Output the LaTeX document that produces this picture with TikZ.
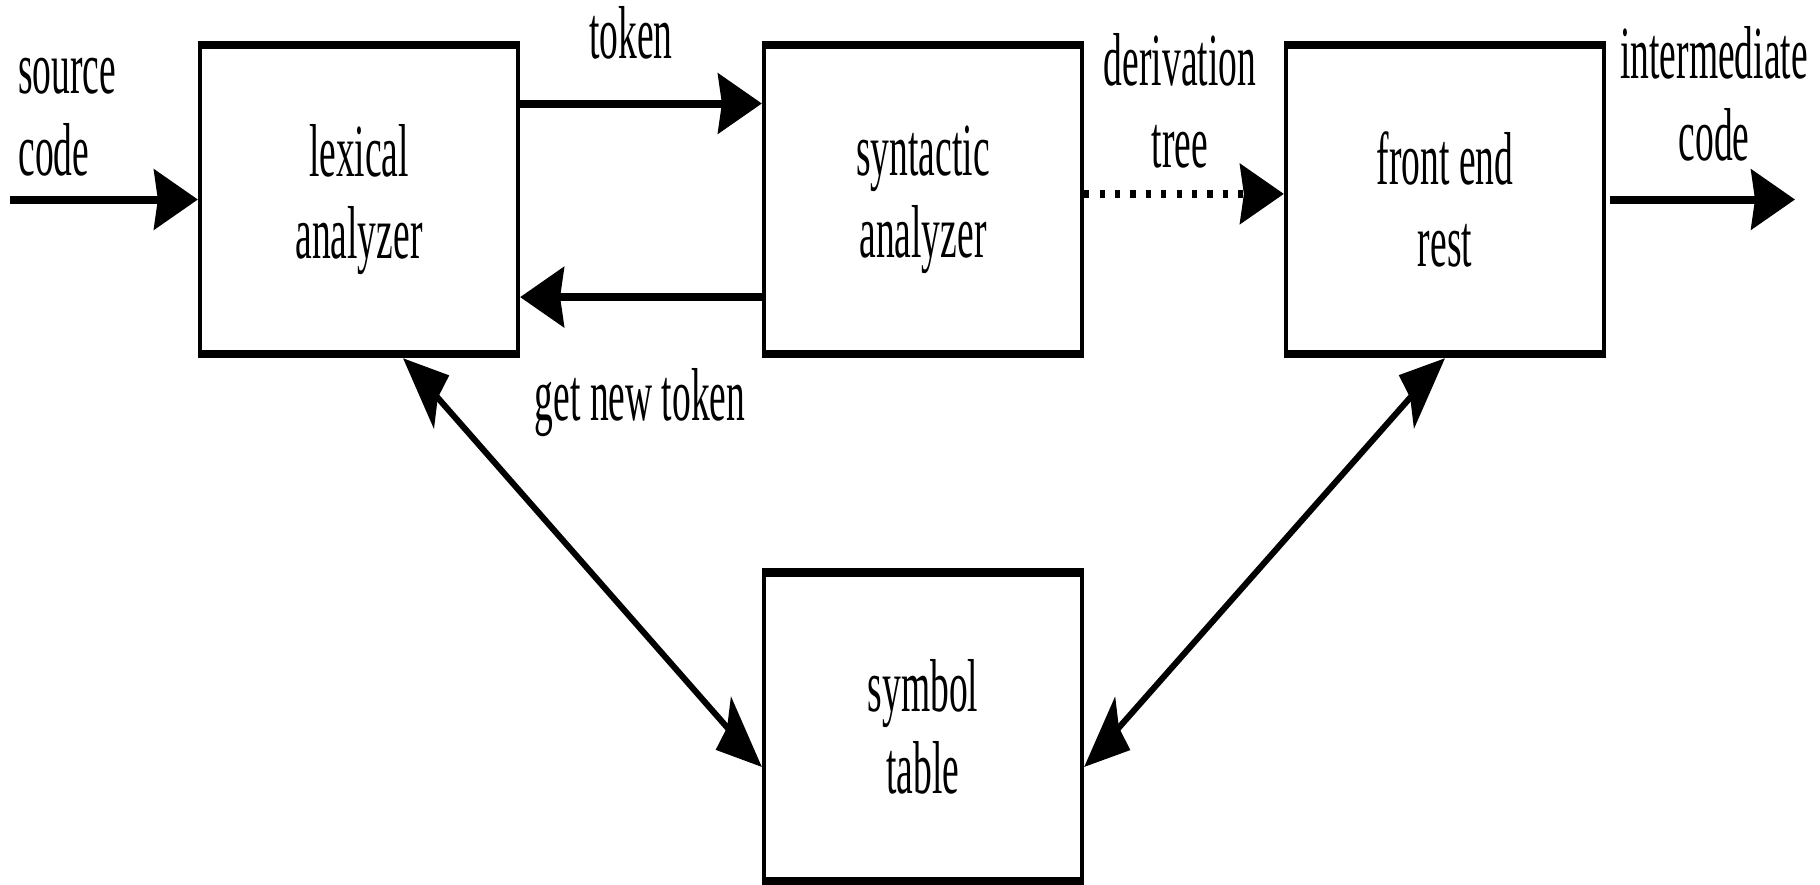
\documentclass[tikz,border=0pt]{standalone}
\usepackage{fontspec}
\setmainfont{Liberation Serif}
\usetikzlibrary{arrows.meta}
\begin{document}
\begin{tikzpicture}[x=0.5pt,y=-0.5pt]
\useasboundingbox (0,0) rectangle (1820,884);
\fill[white] (0,0) rectangle (1820,884);
% everything is drawn squeezed and then stretched twice as tall
\begin{scope}[transform canvas={yscale=2}, x=0.5pt, y=-0.25pt,
  lbl/.style={font=\fontsize{18.75pt}{20.5pt}\selectfont, inner sep=0pt, align=center},
  blk/.style={lbl, draw, line width=2.1pt, minimum width=159pt, minimum height=77.25pt},
  bigtip/.tip={Stealth[length=22pt,width=15pt,inset=2pt]},
  arr/.style={line width=2pt, -bigtip},
  darr/.style={line width=2pt, bigtip-bigtip},
  dotarr/.style={line width=1.9pt, dash pattern=on 2.6pt off 5.1pt, -bigtip}]

  % blocks
  \node[blk] (lex)   at (359,199.5)  {lexical\\analyzer};
  \node[blk] (syn)   at (923,199.5)  {syntactic\\analyzer};
  \node[blk] (front) at (1445,199.5) {front end\\rest};
  \node[blk] (sym)   at (923,727)    {symbol\\table};

  % labels (base = baseline of the last line)
  \node[lbl, anchor=base west, align=left] (srclbl) at (18,175) {source\\code};
  \node[lbl, anchor=base] (toklbl) at (631,58)  {token};
  \node[lbl, anchor=base] (gntlbl) at (640,420) {get new token};
  \node[lbl, anchor=base] (dtlbl)  at (1180,167) {derivation\\tree};
  \node[lbl, anchor=base] (iclbl)  at (1714,160) {intermediate\\code};

  % free ends of the outer arrows
  \coordinate (srcin) at (10,199.5);
  \coordinate (icout) at (1795,199.5);

  % connectors
  \draw[arr] (srcin) -- (lex.west);
  \draw[arr] ([yshift=24pt]lex.east) -- ([yshift=24pt]syn.west);
  \draw[arr] ([yshift=-24.4pt]syn.west) -- ([yshift=-24.4pt]lex.east);
  \draw[dotarr] ([yshift=1.4pt]syn.east) -- ([yshift=1.4pt]front.west);
  \draw[arr, shorten <=2pt] (front.east) -- (icout);
  \draw[darr] ([xshift=22pt]lex.south) -- ([yshift=-10pt]sym.west);
  \draw[darr] (front.south) -- ([yshift=-10pt]sym.east);
\end{scope}
\end{tikzpicture}
\end{document}
